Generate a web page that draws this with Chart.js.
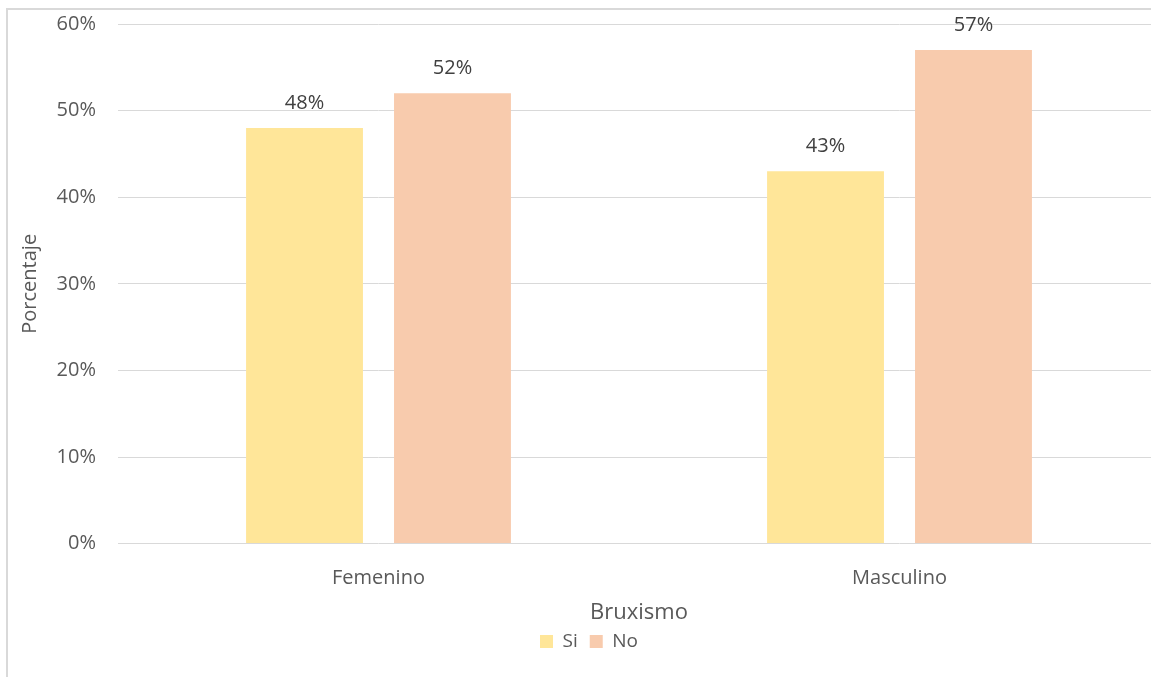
<!DOCTYPE html>
<html>
<head>
<meta charset="utf-8">
<script src="https://cdn.jsdelivr.net/npm/chart.js@4/dist/chart.umd.min.js"></script>
<style>
  html, body { margin: 0; padding: 0; background: #fff; overflow: hidden; }
  #marco {
    position: absolute; left: 6px; top: 8px;
    width: 1200px; height: 700px;
    border-left: 2px solid #d9d9d9; border-top: 2px solid #d9d9d9;
  }
  #grafico { position: absolute; left: 0; top: -20px; }
</style>
</head>
<body>
<div id="marco"><canvas id="grafico" width="1152" height="687"></canvas></div>
<script>
const categorias = ['Femenino', 'Masculino']
const valoresSi = [48, 43]
const valoresNo = [52, 57]
const maxY = 60
const pasoY = 10

const fuente = "'Open Sans', 'DejaVu Sans', sans-serif"

// etiquetas de porcentaje encima de cada barra
const etiquetasBarras = {
	id: 'etiquetasBarras',
	afterDatasetsDraw(chart) {
		const ctx = chart.ctx
		ctx.save()
		ctx.font = `20px ${fuente}`
		ctx.fillStyle = '#404040'
		ctx.textAlign = 'center'
		ctx.textBaseline = 'alphabetic'
		chart.data.datasets.forEach((ds, i) => {
			chart.getDatasetMeta(i).data.forEach((bar, j) => {
				ctx.fillText(ds.data[j] + '%', bar.x, bar.y - 19)
			})
		})
		ctx.restore()
	}
}

const ctx = document.getElementById('grafico').getContext('2d')

new Chart(ctx, {
	type: 'bar',
	data: {
		labels: categorias,
		datasets: [
			{ label: 'Si', data: valoresSi, backgroundColor: '#ffe699' },
			{ label: 'No', data: valoresNo, backgroundColor: '#f8cbad' }
		]
	},
	options: {
		responsive: false,
		animation: false,
		categoryPercentage: 0.568,
		barPercentage: 0.79,
		layout: { padding: { top: 4, right: 0, bottom: 16, left: 10 } },
		plugins: {
			tooltip: { enabled: false },
			legend: {
				position: 'bottom',
				labels: {
					color: '#595959',
					font: { family: fuente, size: 19 },
					boxWidth: 13,
					boxHeight: 13,
					padding: 12
				}
			}
		},
		scales: {
			x: {
				grid: { display: false },
				border: { display: false },
				ticks: { color: '#595959', font: { family: fuente, size: 20 }, padding: 15 },
				title: {
					display: true,
					text: 'Bruxismo',
					color: '#595959',
					font: { family: fuente, size: 22 },
					padding: { top: -6, bottom: -6 }
				}
			},
			y: {
				min: 0,
				max: maxY,
				afterFit: s => { s.width = 100 },
				grid: { color: '#d9d9d9', drawTicks: false },
				border: { display: false },
				ticks: {
					stepSize: pasoY,
					color: '#595959',
					font: { family: fuente, size: 20 },
					padding: 22,
					callback: v => v + '%'
				},
				title: {
					display: true,
					text: 'Porcentaje',
					color: '#595959',
					font: { family: fuente, size: 20 },
					padding: { top: 0, bottom: 20 }
				}
			}
		}
	},
	plugins: [etiquetasBarras]
})
</script>
</body>
</html>
